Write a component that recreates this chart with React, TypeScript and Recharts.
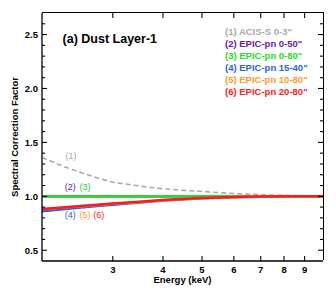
import React from 'react';
import { LineChart, Line, XAxis, YAxis, ReferenceDot } from 'recharts';

// energies (keV) sampled along the curves
const energy = [2, 2.25, 2.5, 2.75, 3, 3.5, 4, 4.5, 5, 6, 7, 8, 9, 10];
const acisS03 = [1.36, 1.28, 1.22, 1.17, 1.13, 1.095, 1.07, 1.055, 1.045, 1.025, 1.015, 1.008, 1.004, 1.0];
const pn050 = [1.0, 1.0, 1.0, 1.0, 1.0, 1.0, 1.0, 1.0, 1.0, 1.0, 1.0, 1.0, 1.0, 1.0];
const pn080 = [1.0, 1.0, 1.0, 1.0, 1.0, 1.0, 1.0, 1.0, 1.0, 1.0, 1.0, 1.0, 1.0, 1.0];
const pn1540 = [0.862, 0.88, 0.896, 0.91, 0.922, 0.943, 0.96, 0.972, 0.981, 0.992, 0.997, 1.0, 1.0, 1.0];
const pn1080 = [0.88, 0.895, 0.908, 0.92, 0.93, 0.948, 0.963, 0.975, 0.983, 0.993, 0.998, 1.0, 1.0, 1.0];
const pn2080 = [0.882, 0.897, 0.91, 0.922, 0.933, 0.95, 0.965, 0.976, 0.984, 0.994, 0.998, 1.0, 1.0, 1.0];

const seriesNames = [
  '(1) ACIS-S 0-3"',
  '(2) EPIC-pn 0-50"',
  '(3) EPIC-pn 0-80"',
  '(4) EPIC-pn 15-40"',
  '(5) EPIC-pn 10-80"',
  '(6) EPIC-pn 20-80"',
];
const seriesColors = ['#aaaaaa', '#6a1aa8', '#22dd22', '#2a62e8', '#ff9a2a', '#ff1a1a'];
const xTicks = [3, 4, 5, 6, 7, 8, 9];
const yTicks = [0.5, 0.6, 0.7, 0.8, 0.9, 1.0, 1.1, 1.2, 1.3, 1.4, 1.5, 1.6, 1.7, 1.8, 1.9, 2.0, 2.1, 2.2, 2.3, 2.4, 2.5, 2.6];
const xDomain = [2, 10];
const yDomain = [0.4, 2.7];

// curve tags placed in data space
const tags = [
  { text: '(1)', x: 2.36, y: 1.375, color: '#aaaaaa' },
  { text: '(2)', x: 2.35, y: 1.086, color: '#6a1aa8' },
  { text: '(3)', x: 2.56, y: 1.086, color: '#22cc22' },
  { text: '(4)', x: 2.35, y: 0.826, color: '#2a62e8' },
  { text: '(5)', x: 2.56, y: 0.826, color: '#ff9a2a' },
  { text: '(6)', x: 2.77, y: 0.826, color: '#ff1a1a' },
];

const data = energy.map((e, i) => ({
  energy: e,
  s1: acisS03[i],
  s2: pn050[i],
  s3: pn080[i],
  s4: pn1540[i],
  s5: pn1080[i],
  s6: pn2080[i],
}));

// layout
const W = 336;
const H = 288;
const M = { top: 13, right: 13, bottom: 0, left: 0 };
const Y_W = 42;
const X_H = 27;
const PLOT_W = W - M.left - M.right - Y_W;
const PLOT_H = H - M.top - M.bottom - X_H;

const FONT = '"Liberation Sans", Arial, Helvetica, sans-serif';
const isMajor = (v: number) => Math.abs(v * 2 - Math.round(v * 2)) < 1e-6;

// left tick + mirrored tick on the right frame edge
const LeftTick = (props: any) => {
  const { x, y, payload } = props;
  const major = isMajor(payload.value);
  const len = major ? 5 : 3;
  return (
    <g>
      <line x1={x} x2={x + len} y1={y} y2={y} stroke="#000" strokeWidth={1.1} />
      <line x1={x + PLOT_W} x2={x + PLOT_W - len} y1={y} y2={y} stroke="#000" strokeWidth={1.1} />
      {major && (
        <text x={x - 4} y={y} dy={3.5} textAnchor="end" fontSize={9.5} fontWeight="bold" fontFamily={FONT} fill="#000">
          {payload.value.toFixed(1)}
        </text>
      )}
    </g>
  );
};

// bottom tick + mirrored tick on the top frame edge
const BottomTick = (props: any) => {
  const { x, y, payload } = props;
  return (
    <g>
      <line x1={x} x2={x} y1={y} y2={y - 5} stroke="#000" strokeWidth={1.1} />
      <line x1={x} x2={x} y1={y - PLOT_H} y2={y - PLOT_H + 5} stroke="#000" strokeWidth={1.1} />
      <text x={x} y={y + 12} textAnchor="middle" fontSize={9.5} fontWeight="bold" fontFamily={FONT} fill="#000">
        {payload.value}
      </text>
    </g>
  );
};

const textStyle: React.CSSProperties = {
  position: 'absolute',
  fontFamily: FONT,
  fontWeight: 'bold',
  fontSize: 9.5,
  whiteSpace: 'nowrap',
  lineHeight: '12px',
};

export default function App() {
  return (
    <div style={{ position: 'absolute', left: 0, top: 0, width: W, height: H, background: '#fff', overflow: 'hidden' }}>
      <LineChart width={W} height={H} data={data} margin={M}>
        <XAxis
          dataKey="energy"
          type="number"
          scale="log"
          domain={xDomain}
          allowDataOverflow
          ticks={xTicks}
          height={X_H}
          tickSize={0}
          tickMargin={0}
          tickLine={false}
          tick={<BottomTick />}
          axisLine={{ stroke: '#000', strokeWidth: 1.3 }}
        />
        <YAxis
          type="number"
          domain={yDomain}
          allowDataOverflow
          ticks={yTicks}
          width={Y_W}
          tickSize={0}
          tickMargin={0}
          tickLine={false}
          tick={<LeftTick />}
          interval={0}
          axisLine={{ stroke: '#000', strokeWidth: 1.3 }}
        />
        <Line dataKey="s1" name={seriesNames[0]} stroke={seriesColors[0]} strokeWidth={1.6} strokeDasharray="5 3" dot={false} isAnimationActive={false} />
        <Line dataKey="s2" name={seriesNames[1]} stroke={seriesColors[1]} strokeWidth={2.5} dot={false} isAnimationActive={false} />
        <Line dataKey="s3" name={seriesNames[2]} stroke={seriesColors[2]} strokeWidth={2.5} dot={false} isAnimationActive={false} />
        <Line dataKey="s4" name={seriesNames[3]} stroke={seriesColors[3]} strokeWidth={2.5} dot={false} isAnimationActive={false} />
        <Line dataKey="s5" name={seriesNames[4]} stroke={seriesColors[4]} strokeWidth={2.5} dot={false} isAnimationActive={false} />
        <Line dataKey="s6" name={seriesNames[5]} stroke={seriesColors[5]} strokeWidth={2.5} dot={false} isAnimationActive={false} />
        {tags.map((t) => (
          <ReferenceDot
            key={t.text}
            x={t.x}
            y={t.y}
            r={0}
            fill="none"
            stroke="none"
            label={{ value: t.text, position: 'center', fill: t.color, fontSize: 9, fontFamily: FONT }}
          />
        ))}
        <ReferenceDot
          x={2.25}
          y={2.46}
          r={0}
          fill="none"
          stroke="none"
          label={{ value: '(a) Dust Layer-1', position: 'right', offset: 0, fill: '#000', fontSize: 12.5, fontWeight: 'bold', fontFamily: FONT }}
        />
      </LineChart>
      {/* top and right frame edges */}
      <div
        style={{
          position: 'absolute',
          left: M.left + Y_W,
          top: M.top - 0.65,
          width: PLOT_W + 0.65,
          height: PLOT_H,
          borderTop: '1.3px solid #000',
          borderRight: '1.3px solid #000',
          boxSizing: 'border-box',
          pointerEvents: 'none',
        }}
      />
      {/* legend */}
      <div style={{ ...textStyle, left: 225, top: 26 }}>
        {seriesNames.map((n, i) => (
          <div key={n} style={{ color: seriesColors[i] }}>
            {n}
          </div>
        ))}
      </div>
      {/* axis titles */}
      <div style={{ ...textStyle, left: M.left + Y_W, width: PLOT_W, top: 274, textAlign: 'center' }}>Energy (keV)</div>
      <div
        style={{
          ...textStyle,
          left: 15 - 75,
          top: M.top + PLOT_H / 2 - 6,
          width: 150,
          textAlign: 'center',
          transform: 'rotate(-90deg)',
        }}
      >
        Spectral Correction Factor
      </div>
    </div>
  );
}
